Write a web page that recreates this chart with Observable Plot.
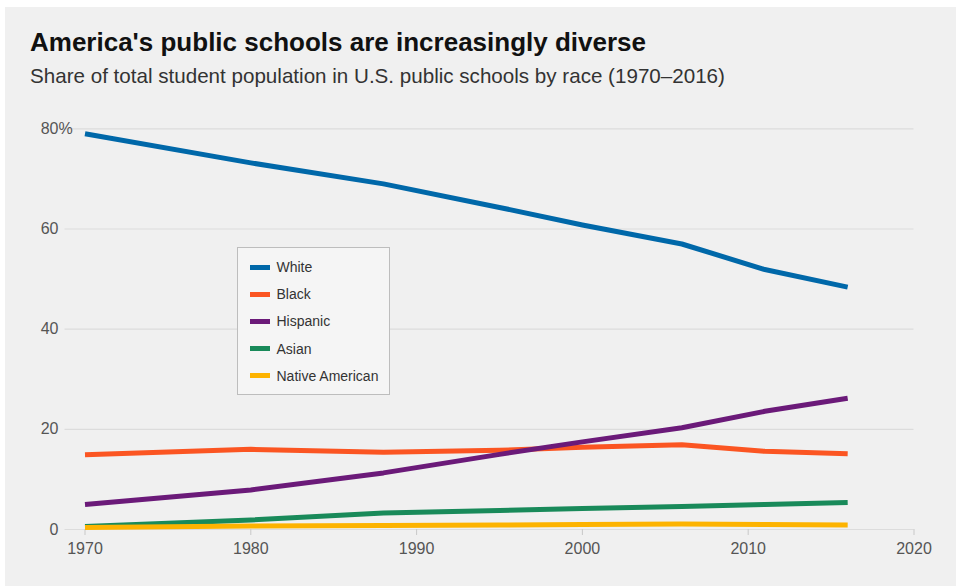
<!DOCTYPE html>
<html>
<head>
<meta charset="utf-8">
<script src="https://cdn.jsdelivr.net/npm/d3@7"></script>
<script src="https://cdn.jsdelivr.net/npm/@observablehq/plot@0.6"></script>
<style>
  html, body { margin: 0; padding: 0; background: #ffffff; }
  body { width: 956px; height: 586px; position: relative; overflow: hidden; font-family: "Liberation Sans", Arial, sans-serif; }
  #panel { position: absolute; left: 5px; top: 7px; right: 0; bottom: 0; background: #f0f0f0; }
  #title { position: absolute; left: 30px; top: 26px; font-size: 26px; font-weight: bold; color: #111; white-space: nowrap; line-height: 32px; }
  #subtitle { position: absolute; left: 30px; top: 63px; font-size: 20.6px; color: #333; white-space: nowrap; line-height: 26px; }
  #chart { position: absolute; left: 0; top: 0; }
  #legend { position: absolute; left: 236.5px; top: 246.5px; width: 151px; height: 146px; border: 1px solid #bdbdbd; background: #f5f5f5; }
  .item { position: absolute; left: 12px; height: 20px; }
  .sw { position: absolute; left: 0; top: 7.5px; width: 20px; height: 5px; }
  .lab { position: absolute; left: 27px; top: 0; font-size: 14px; line-height: 20px; color: #333; white-space: nowrap; }
</style>
</head>
<body>
<div id="panel"></div>
<div id="chart"></div>
<div id="title">America's public schools are increasingly diverse</div>
<div id="subtitle">Share of total student population in U.S. public schools by race (1970–2016)</div>
<div id="legend"></div>
<script>
// Data
const years = [1970, 1980, 1988, 1995, 2000, 2006, 2011, 2016];
const white = [79.0, 73.2, 69.0, 64.3, 60.8, 57.0, 51.9, 48.4];
const black = [14.9, 16.0, 15.4, 15.8, 16.4, 16.9, 15.6, 15.1];
const hispanic = [5.0, 7.9, 11.3, 15.0, 17.5, 20.3, 23.6, 26.2];
const asian = [0.6, 1.9, 3.3, 3.8, 4.2, 4.6, 5.0, 5.4];
const nativeAmerican = [0.4, 0.7, 0.8, 0.9, 1.0, 1.1, 1.0, 0.9];

const seriesNames = ["White", "Black", "Hispanic", "Asian", "Native American"];
const seriesValues = [white, black, hispanic, asian, nativeAmerican];
const seriesColors = ["#0068a9", "#fb5522", "#6b1a79", "#198a5a", "#fdb300"];

const xTicks = [1970, 1980, 1990, 2000, 2010, 2020];
const yTicks = [0, 20, 40, 60, 80];

const rows = [];
seriesNames.forEach((name, i) => {
  years.forEach((yr, j) => rows.push({ series: name, year: yr, value: seriesValues[i][j] }));
});

const plot = Plot.plot({
  width: 956,
  height: 586,
  marginLeft: 84.5,
  marginRight: 42.5,
  marginTop: 128.3,
  marginBottom: 57,
  style: { background: "transparent", fontFamily: "'Liberation Sans', Arial, sans-serif", fontSize: "16px", color: "#555" },
  x: { domain: [1970, 2020] },
  y: { domain: [0, 80] },
  color: { domain: seriesNames, range: seriesColors },
  marks: [
    Plot.gridY(yTicks, { stroke: "#dcdcdc", strokeOpacity: 1, strokeWidth: 1.2, insetLeft: -20 }),
    Plot.axisX(xTicks, { tickSize: 6, tickPadding: 7, tickFormat: d => String(d), stroke: "#c8c8c8", fill: "#555", fontSize: 16, label: null }),
    Plot.axisY(yTicks, { tickSize: 0, tickPadding: 26.5, tickFormat: d => String(d), fill: "#555", fontSize: 16, label: null }),
    Plot.text([80], { y: d => d, frameAnchor: "left", dx: -26.5, textAnchor: "start", text: () => "%", fill: "#555", fontSize: 16 }),
    Plot.line(rows, { x: "year", y: "value", z: "series", stroke: "series", strokeWidth: 5, strokeLinecap: "butt", strokeLinejoin: "round" })
  ]
});
document.getElementById("chart").appendChild(plot);

const legend = document.getElementById("legend");
seriesNames.forEach((name, i) => {
  const it = document.createElement("div");
  it.className = "item";
  it.style.top = (9.5 + i * 27.2) + "px";
  const sw = document.createElement("div");
  sw.className = "sw";
  sw.style.background = seriesColors[i];
  const lab = document.createElement("div");
  lab.className = "lab";
  lab.textContent = name;
  it.appendChild(sw);
  it.appendChild(lab);
  legend.appendChild(it);
});
</script>
</body>
</html>
